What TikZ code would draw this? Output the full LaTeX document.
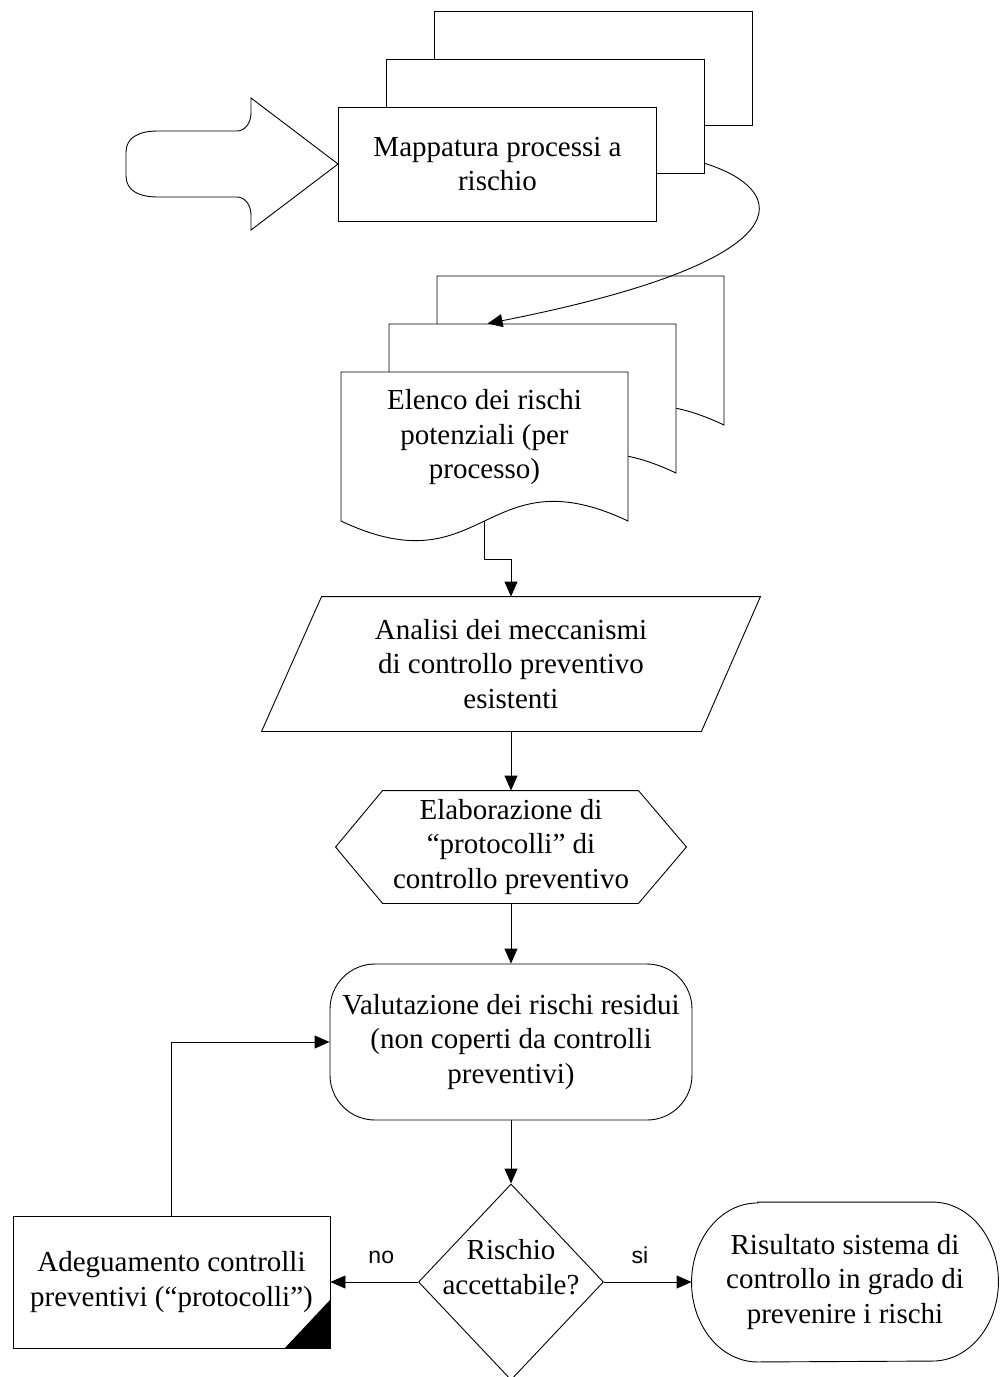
\documentclass[tikz,border=0pt]{standalone}
\usepackage{fontspec}
\setmainfont{Liberation Serif}
\setsansfont{Liberation Sans}
\usetikzlibrary{arrows.meta,shapes.geometric}

% one sheet of the document stack, top left corner at (#1,#2)
\newcommand{\docpage}[2]{%
    \draw[fill=white] (#1,#2) -- (#1+287,#2) -- (#1+287,#2-149)
        .. controls (#1+143.5,#2-81) and (#1+143.5,#2-217) .. (#1,#2-149) -- cycle;}

\begin{document}
\begin{tikzpicture}[x=1pt,y=1pt,line width=0.9pt,>={Triangle[length=15pt,width=13pt]},
    font=\fontsize{29}{34.5}\selectfont]
    \tikzstyle{proc}=[rectangle,draw,fill=white,minimum width=318pt,minimum height=114pt,align=center,inner sep=0pt]
    \tikzstyle{box}=[rectangle,draw=none,align=center,inner sep=0pt]
    \tikzstyle{flow}=[->]
    \tikzstyle{lbl}=[font=\sffamily\fontsize{23}{26}\selectfont]

    \useasboundingbox (0,0) rectangle (1000,-1377);

    % Draw the process sheets, back to front
    \node[proc] (map3) at (593.5,-68) {};
    \node[proc] (map2) at (545.5,-116) {};
    \node[proc] (map) at (497.5,-164) {Mappatura processi a\\rischio};

    % Big input arrow
    \draw (map.west) -- (251,-98) -- (251,-113) .. controls (251,-123) and (245,-131) .. (237,-131)
        -- (158,-131) .. controls (138,-131) and (126,-138) .. (126,-152) -- (126,-176)
        .. controls (126,-190) and (138,-197) .. (158,-197) -- (237,-197)
        .. controls (245,-197) and (251,-205) .. (251,-215) -- (251,-230) -- cycle;

    % Document stack
    \docpage{437}{-276}
    \docpage{389}{-324}
    \docpage{341}{-372}
    \node[box,minimum width=287pt,minimum height=149pt,
        label={[yshift=9pt,align=center]center:Elenco dei rischi\\potenziali (per\\processo)}] (doc) at (484.5,-446.5) {};

    \draw[flow] ([yshift=10pt]map2.south east) .. controls (790,-190) and (810,-260) .. ([xshift=147pt,yshift=48pt]doc.north west);

    % Parallelogram
    \node[box,minimum width=498pt,minimum height=134pt] (ana) at (511,-664) {Analisi dei meccanismi\\di controllo preventivo\\esistenti};
    \draw ([xshift=60pt]ana.north west) -- (ana.north east) -- ([xshift=-59pt]ana.south east) -- (ana.south west) -- cycle;

    % Hexagon
    \node[box,minimum width=350pt,minimum height=112pt] (ela) at (511,-847) {Elaborazione di\\“protocolli” di\\controllo preventivo};
    \draw ([xshift=47pt]ela.north west) -- ([xshift=-48pt]ela.north east) -- (ela.east)
        -- ([xshift=-48pt]ela.south east) -- ([xshift=47pt]ela.south west) -- (ela.west) -- cycle;

    \node[box,draw,rounded corners=45pt,minimum width=362pt,minimum height=156pt] (val) at (511,-1042) {Valutazione dei rischi residui\\(non coperti da controlli\\preventivi)};

    % Decision
    \node[draw,diamond,minimum width=185pt,minimum height=196pt,inner sep=0pt,
        label={[yshift=15pt,align=center]center:Rischio\\accettabile?}] (dec) at (511,-1282) {};

    \node[box,draw,minimum width=317pt,minimum height=132pt] (adj) at (171.5,-1282) {Adeguamento controlli\\preventivi (“protocolli”)};
    \fill ([xshift=-46pt]adj.south east) -- (adj.south east) -- ([yshift=49pt]adj.south east) -- cycle;

    \node[box,minimum width=306pt,minimum height=159pt] (res) at (845,-1282) {Risultato sistema di\\controllo in grado di\\prevenire i rischi};
    \draw ([xshift=66pt]res.north west) -- ([xshift=-66pt]res.north east)
        arc[start angle=90,end angle=-90,x radius=66,y radius=79.5] -- ([xshift=66pt]res.south west)
        arc[start angle=270,end angle=90,x radius=66,y radius=79.5] -- cycle;

    % Connect the steps
    \draw[flow] (doc.south) -- ++(0,-38) -| (ana.north);
    \draw[flow] (ana.south) -- (ela.north);
    \draw[flow] (ela.south) -- (val.north);
    \draw[flow] (val.south) -- (dec.north);
    \draw[flow] (dec.west) -- node[lbl,pos=0.42,anchor=base,yshift=19pt] {no} (adj.east);
    \draw[flow] (dec.east) -- node[lbl,pos=0.41,anchor=base,yshift=19pt] {si} (res.west);
    \draw[flow] (adj.north) |- (val.west);
\end{tikzpicture}
\end{document}
